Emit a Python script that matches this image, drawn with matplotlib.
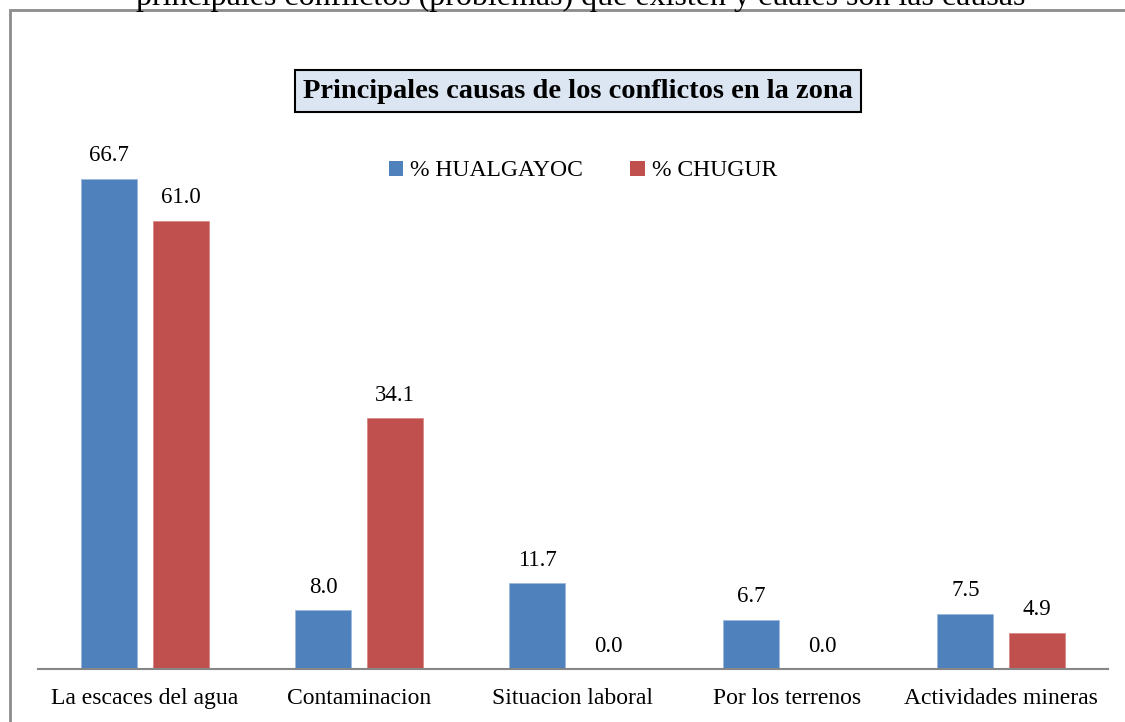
import matplotlib.pyplot as plt
import numpy as np
from matplotlib.patches import Rectangle, Patch

categorias = ["La escaces del agua", "Contaminacion", "Situacion laboral",
              "Por los terrenos", "Actividades mineras"]
hualgayoc = [66.7, 8.0, 11.7, 6.7, 7.5]
chugur = [61.0, 34.1, 0.0, 0.0, 4.9]
series = ["% HUALGAYOC", "% CHUGUR"]

azul = "#4f81bd"
rojo = "#c0504d"

plt.rcParams['font.family'] = ['Liberation Serif', 'DejaVu Serif']

W, H = 1125, 722
fig = plt.figure(figsize=(W / 100, H / 100), dpi=100)

# marco gris del grafico
fig.patches.append(Rectangle((10 / W, -0.05), 1.2, (H - 10) / H + 0.05,
                             transform=fig.transFigure, fill=False,
                             edgecolor="#8c8c8c", linewidth=2))

# texto cortado arriba
fig.text(581 / W, 1 - 5 / H,
         "principales conflictos (problemas) que existen y cuáles son las causas",
         ha="center", va="baseline", fontsize=23)

ax = fig.add_axes([38 / W, (H - 669) / H, 1070 / W, 588 / H])
x = np.arange(len(categorias))
ancho = 0.262
b1 = ax.bar(x - 0.167, hualgayoc, ancho, color=azul, edgecolor="#9db8dc", linewidth=0.6)
b2 = ax.bar(x + 0.167, chugur, ancho, color=rojo, edgecolor="#d98a88", linewidth=0.6)

for barras in (b1, b2):
    for b in barras:
        ax.annotate(f"{b.get_height():.1f}", (b.get_x() + b.get_width() / 2, b.get_height()),
                    xytext=(0, 9), textcoords="offset points", ha="center", va="bottom",
                    fontsize=16.5)

ax.set_xlim(-0.5, len(categorias) - 0.5)
ax.set_ylim(0, 80)
ax.set_yticks([])
ax.set_xticks(x)
ax.set_xticklabels(categorias, fontsize=17)
ax.tick_params(axis="x", length=0, pad=14)
for s in ["top", "right", "left"]:
    ax.spines[s].set_visible(False)
ax.spines["bottom"].set_color("#868686")
ax.spines["bottom"].set_linewidth(1.5)
ax.patch.set_alpha(0)

fig.text(578 / W, 1 - 91 / H, "Principales causas de los conflictos en la zona",
         ha="center", va="center", fontsize=20.5, fontweight="bold",
         bbox=dict(boxstyle="square,pad=0.3", facecolor="#dce6f2", edgecolor="black", linewidth=1.5))

handles = [Patch(facecolor=azul), Patch(facecolor=rojo)]
fig.legend(handles, series, loc="center", bbox_to_anchor=(583 / W, 1 - 171 / H), ncol=2,
           frameon=False, fontsize=17, handlelength=0.6, handleheight=0.6,
           handletextpad=0.3, columnspacing=2.0)

fig.savefig("out.png", dpi=100)
